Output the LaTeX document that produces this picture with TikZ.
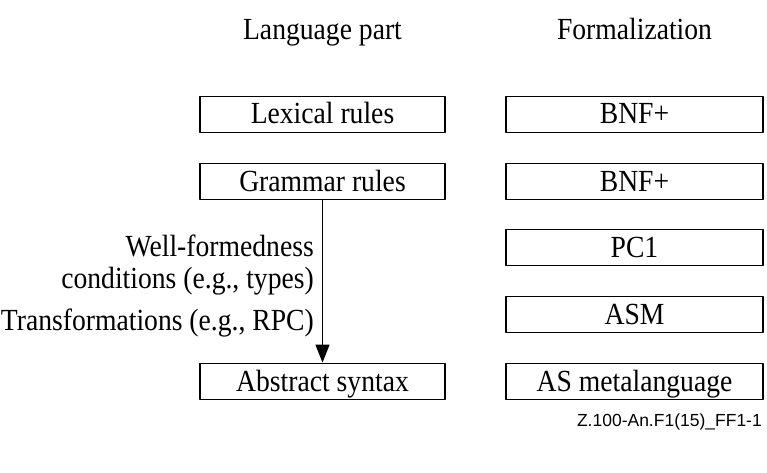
\documentclass[tikz,border=0pt]{standalone}
\usepackage{fontspec}
\setmainfont{Liberation Serif}[FakeStretch=0.9]
\newfontfamily\figidfont{Liberation Sans}
\usetikzlibrary{arrows.meta}
\begin{document}
\begin{tikzpicture}[x=1pt,y=-1pt,line join=round,font=\fontsize{30.7}{32}\selectfont,
		rulebox/.style={draw,line width=1.8pt,minimum height=36pt,inner sep=0pt,text height=23pt,text depth=4pt},
		langbox/.style={rulebox,minimum width=245pt},
		formbox/.style={rulebox,minimum width=257pt}]
		\useasboundingbox (0,0) rectangle (767,473);
		% column heads
		\node[inner sep=0pt,text height=21pt,text depth=4pt] (langhead) at (322.5,31) {Language part};
		\node[inner sep=0pt,text height=21pt,text depth=4pt] (formhead) at (634.5,31) {Formalization};
		% language part
		\node[langbox] (lexical) at (322.5,114.5) {Lexical rules};
		\node[langbox] (grammar) at (322.5,181.5) {Grammar rules};
		\node[langbox] (abstract) at (322.5,381.5) {Abstract syntax};
		% formalization
		\node[formbox] (bnflex) at (634.5,114.5) {BNF+};
		\node[formbox] (bnfgram) at (634.5,181.5) {BNF+};
		\node[formbox] (pcone) at (634.5,247.5) {PC1};
		\node[formbox] (asm) at (634.5,314.5) {ASM};
		\node[formbox] (asmeta) at (634.5,381.5) {AS metalanguage};
		% grammar to abstract syntax
		\draw[-{Triangle[length=18pt,width=14pt]},line width=1.4pt] (grammar) -- (abstract);
		\node[anchor=east,align=right,inner sep=0pt] (wellformed) at (314,265) {Well-formedness\\conditions (e.g., types)};
		\node[anchor=east,inner sep=0pt,text height=21pt,text depth=4pt] (transform) at (314,322) {Transformations (e.g., RPC)};
		\node[anchor=east,inner sep=0pt,font=\figidfont\fontsize{17.5}{20}\selectfont] (figid) at (762,422) {Z.100-An.F1(15)\_FF1-1};
\end{tikzpicture}
\end{document}
